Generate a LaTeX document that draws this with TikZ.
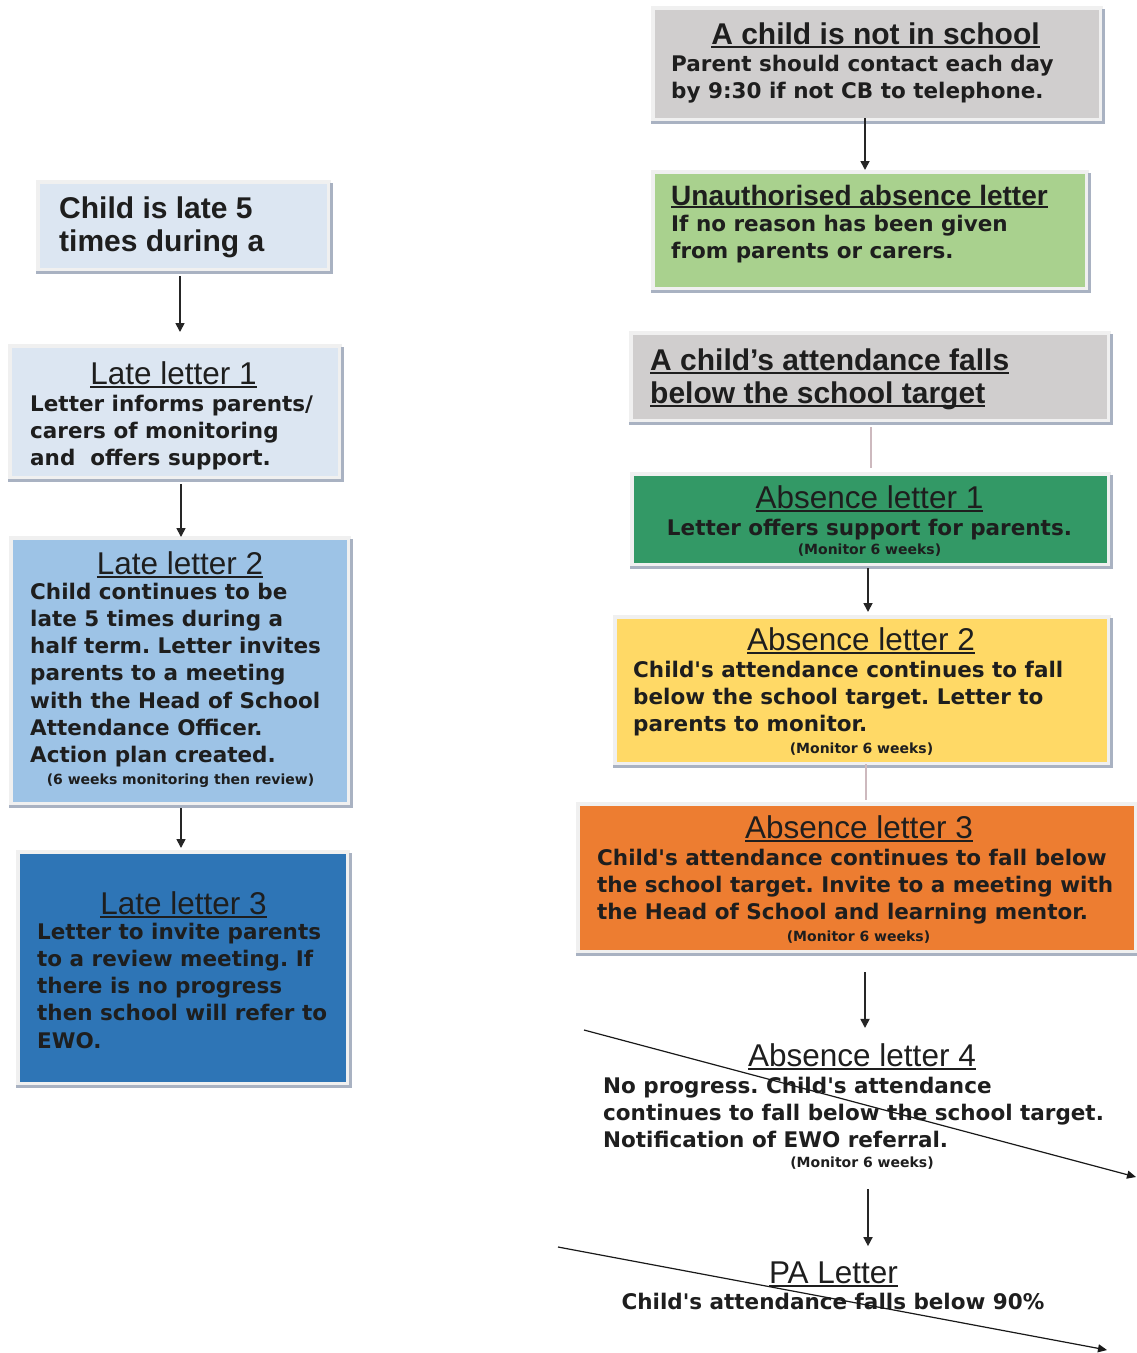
\documentclass[tikz,border=0pt]{standalone}
\usepackage{fontspec}
\setmainfont{Liberation Sans}
\newfontfamily\vfont{DejaVu Sans}
\usetikzlibrary{arrows.meta}
\frenchspacing
\definecolor{txt}{HTML}{1E1E1E}
\definecolor{framec}{HTML}{F0F0F0}
\definecolor{shadowc}{HTML}{A9B2C2}
\definecolor{lblue}{HTML}{DCE6F2}
\definecolor{mblue}{HTML}{9DC3E6}
\definecolor{dblue}{HTML}{2E75B6}
\definecolor{lgray}{HTML}{D0CECE}
\definecolor{lgreen}{HTML}{A9D18E}
\definecolor{dgreen}{HTML}{339966}
\definecolor{yell}{HTML}{FFD966}
\definecolor{orng}{HTML}{ED7D31}
\definecolor{pinkl}{HTML}{CDB9BE}
\newcommand\myul[1]{\setbox0=\hbox{#1}\rlap{\rule[-0.12em]{\wd0}{0.07em}}\box0}
\newcommand\mkbox[6]{%
  \fill[framec] (#2-4,#3-4) rectangle (#4+4,#5+4);
  \draw[shadowc, line width=3pt] (#2-4,#5+4) -- (#4+4,#5+4) -- (#4+4,#3-1);
  \node[boxn, fill=#6, minimum width={(#4-(#2))*1pt}, minimum height={(#5-(#3))*1pt}] (#1) at (#2,#3) {};
}
\tikzset{
  boxn/.style={rectangle, inner sep=0pt, outer sep=0pt, anchor=north west, draw=none},
  ttl/.style={font=\fontsize{31.5}{36}\selectfont, text=txt, inner sep=0pt, anchor=base},
  bttl/.style={font=\bfseries\fontsize{30}{33}\selectfont, text=txt, inner sep=0pt, anchor=base, align=left},
  bdy/.style={font=\vfont\bfseries\fontsize{21.5}{27.3}\selectfont, text=txt, inner sep=0pt, anchor=base west, align=left},
  sml/.style={font=\vfont\bfseries\fontsize{14}{16}\selectfont, text=txt, inner sep=0pt, anchor=base},
  arr/.style={draw=black!85, line width=1.7pt, -{Triangle[length=9pt,width=9pt]}},
  plink/.style={draw=pinkl, line width=2pt},
  darr/.style={draw=black!90, line width=1.2pt, -{Triangle[length=9pt,width=8pt]}}
}
\begin{document}
\begin{tikzpicture}[x=1pt,y=-1pt]
\useasboundingbox (0,0) rectangle (1137,1353);
\clip (0,0) rectangle (1137,1353);
\fill[white] (0,0) rectangle (1137,1353);
% left column boxes
\mkbox{b1}{40}{184}{327}{268}{lblue}
\mkbox{ll1}{12}{348}{338}{476}{lblue}
\mkbox{ll2}{13}{540}{347}{802}{mblue}
\mkbox{ll3}{20}{854}{346}{1082}{dblue}
% right column boxes
\mkbox{ab0}{655}{10}{1099}{118}{lgray}
\mkbox{ua}{655}{174}{1085}{287}{lgreen}
\mkbox{att}{633}{335}{1107}{419}{lgray}
\mkbox{ab1}{634}{476}{1107}{563}{dgreen}
\mkbox{ab2}{617}{619}{1107}{762}{yell}
\mkbox{ab3}{580}{806}{1134}{950}{orng}
% texts left (base anchor = last line)
\node[bttl, anchor=base west] (t1) at (59,251) {Child is late 5\\times during a};
\node[ttl] (ll1t) at (173.5,384) {\myul{Late letter 1}};
\begin{scope}
\clip (0,340) rectangle (400,470);
\node[bdy] (ll1b) at (30,465.6) {Letter informs parents/\\carers of monitoring\\and\ \ offers support.};
\end{scope}
\node[ttl] (ll2t) at (180,574) {\myul{Late letter 2}};
\node[bdy] (ll2b) at (30,762.8) {Child continues to be\\late 5 times during a\\half term. Letter invites\\parents to a meeting\\with the Head of School\\Attendance Officer.\\Action plan created.};
\node[sml] (ll2s) at (180.5,784) {(6 weeks monitoring then review)};
\node[ttl] (ll3t) at (183.5,914) {\myul{Late letter 3}};
\node[bdy] (ll3b) at (37,1048.2) {Letter to invite parents\\to a review meeting. If\\there is no progress\\then school will refer to\\EWO.};
% texts right
\node[bttl] (ab0t) at (875.5,44) {\myul{A child is not in school}};
\node[bdy] (ab0b) at (671,98.3) {Parent should contact each day\\by 9:30 if not CB to telephone.};
\node[bttl, anchor=base west, font=\bfseries\fontsize{28}{32}\selectfont] (uat) at (671,205) {\myul{Unauthorised absence letter}};
\node[bdy] (uab) at (671,258.3) {If no reason has been given\\from parents or carers.};
\node[bttl, anchor=base west] (attt) at (650,403) {\myul{A child's attendance falls}\\\myul{below the school target}};
\node[ttl] (ab1t) at (869.5,508) {\myul{Absence letter 1}};
\node[bdy, anchor=base] (ab1b) at (869.5,535) {Letter offers support for parents.};
\node[sml] (ab1s) at (869.5,554) {(Monitor 6 weeks)};
\node[ttl] (ab2t) at (861,650) {\myul{Absence letter 2}};
\node[bdy] (ab2b) at (633,731.6) {Child's attendance continues to fall\\below the school target. Letter to\\parents to monitor.};
\node[sml] (ab2s) at (861.5,753) {(Monitor 6 weeks)};
\node[ttl] (ab3t) at (859,838) {\myul{Absence letter 3}};
\node[bdy] (ab3b) at (597,919.6) {Child's attendance continues to fall below\\the school target. Invite to a meeting with\\the Head of School and learning mentor.};
\node[sml] (ab3s) at (858.5,941) {(Monitor 6 weeks)};
\node[ttl] (ab4t) at (862,1066) {\myul{Absence letter 4}};
\node[bdy] (ab4b) at (603,1147.6) {No progress. Child's attendance\\continues to fall below the school target.\\Notification of EWO referral.};
\node[sml] (ab4s) at (862,1167) {(Monitor 6 weeks)};
\node[ttl] (pat) at (833.5,1283) {\myul{PA Letter}};
\node[bdy, anchor=base] (pab) at (833,1309) {Child's attendance falls below 90\%};
% connector x positions
\coordinate (xa) at (180,0);
\coordinate (xb) at (181,0);
\coordinate (xc) at (865,0);
\coordinate (xd) at (871,0);
\coordinate (xe) at (868,0);
\coordinate (xf) at (866,0);
% connectors
\draw[arr, shorten <=8pt, shorten >=16pt] (b1.south -| xa) -- (ll1.north -| xa);
\draw[arr, shorten <=8pt, shorten >=3pt] (ll1.south -| xb) -- (ll2.north -| xb);
\draw[arr, shorten <=6pt, shorten >=6pt] (ll2.south -| xb) -- (ll3.north -| xb);
\draw[arr, shorten <=0pt, shorten >=4pt] (ab0.south -| xc) -- (ua.north -| xc);
\draw[plink, shorten <=8pt, shorten >=8pt] (att.south -| xd) -- (ab1.north -| xd);
\draw[arr, shorten <=5pt, shorten >=7pt] (ab1.south -| xe) -- (ab2.north -| xe);
\draw[plink, shorten <=2pt, shorten >=6pt] (ab2.south -| xf) -- (ab3.north -| xf);
\draw[arr, shorten <=22pt, shorten >=15pt] (ab3.south -| xc) -- (ab4t.north -| xc);
\draw[arr, shorten <=20pt, shorten >=15pt] (ab4s.south -| xe) -- (pat.north -| xe);
% diagonal arrows
\coordinate (d1s) at (584,1030);
\coordinate (d1e) at (1136,1177);
\coordinate (d2s) at (558,1247);
\coordinate (d2e) at (1107,1350);
\draw[darr] (d1s) -- (d1e);
\draw[darr] (d2s) -- (d2e);
\end{tikzpicture}
\end{document}
